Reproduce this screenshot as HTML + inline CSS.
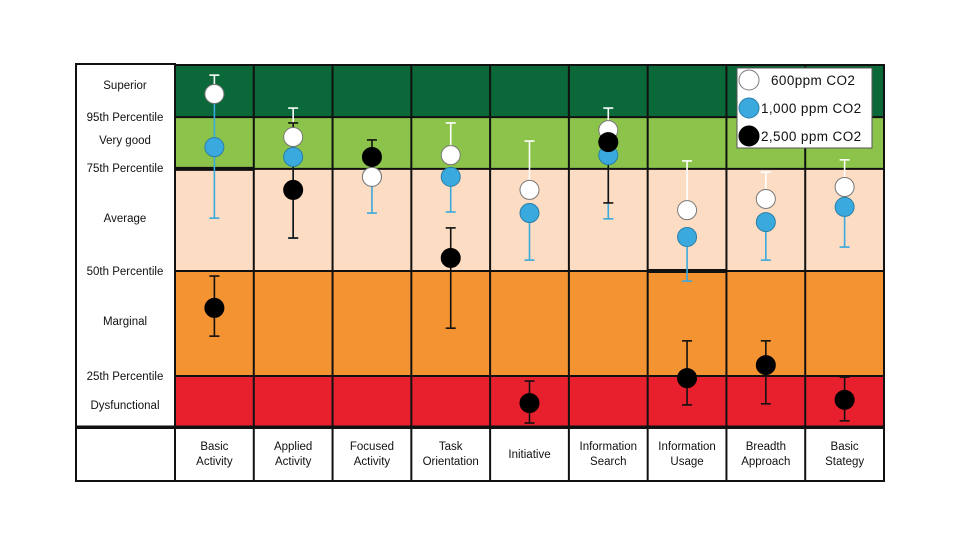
<!DOCTYPE html>
<html><head><meta charset="utf-8"><style>
html,body{margin:0;padding:0;background:#fff;}
svg{display:block;font-family:"Liberation Sans",sans-serif;}
</style></head><body>
<svg id="chart" width="960" height="540" viewBox="0 0 960 540"></svg>
<script>
const categories=[["Basic","Activity"],["Applied","Activity"],["Focused","Activity"],["Task","Orientation"],["Initiative"],["Information","Search"],["Information","Usage"],["Breadth","Approach"],["Basic","Stategy"]];
const white600=[92.0,80.1,69.1,75.1,65.5,82.0,59.9,63.0,66.3];
const white600Up=[97.2,88.1,69.1,84.0,79.0,88.1,73.5,70.4,73.8];
const blue1000=[77.3,74.6,69.1,69.1,59.1,75.1,52.5,56.6,60.8];
const blue1000Up=[92.0,74.6,69.1,69.1,59.1,75.1,52.5,56.6,60.8];
const blue1000Low=[57.7,52.2,59.1,59.4,46.1,57.5,40.3,46.1,49.7];
const black2500=[32.9,65.5,74.6,46.7,6.6,78.7,13.5,17.1,7.5];
const black2500Up=[41.7,84.0,79.3,55.0,12.7,78.7,23.8,23.8,13.8];
const black2500Low=[25.1,52.2,74.6,27.3,1.1,61.9,6.1,6.4,1.7];
const bandNames=["dysfunctional","marginal","average","very-good","superior"];
const bandEdges=[0,14.1,43.1,71.3,85.6,100];
const bandColors=["#e8202e","#f39332","#fcdcc2","#8cc34a","#0b6838"];
const sideLabels=["Superior","95th Percentile","Very good","75th Percentile","Average","50th Percentile","Marginal","25th Percentile","Dysfunctional"];
const sideLabelVals=[94.5,85.6,79.3,71.5,57.7,43.1,29.3,14.1,6.1];

const svg=document.getElementById('chart');
const NS='http://www.w3.org/2000/svg';
const X0=175,X1=884,Y0=427,Y1=65;
const colW=(X1-X0)/categories.length;
function y(v){return Y0-(v/100)*(Y0-Y1);}
function cx(i){return X0+colW*(i+0.5);}
function mk(tag,attrs,parent){const e=document.createElementNS(NS,tag);for(const k in attrs)e.setAttribute(k,attrs[k]);(parent||svg).appendChild(e);return e;}

const lc=mk('rect',{x:76,y:64,width:99,height:363,fill:'#fff',stroke:'#111','stroke-width':2});


for(let b=0;b<bandNames.length;b++){
  const r=mk('rect',{x:X0,y:y(bandEdges[b+1]),width:X1-X0,height:y(bandEdges[b])-y(bandEdges[b+1]),fill:bandColors[b]});
  
  
}
for(let b=1;b<bandNames.length;b++){
  mk('line',{x1:X0,x2:X1,y1:y(bandEdges[b]),y2:y(bandEdges[b]),stroke:'#111','stroke-width':2});
}
for(let i=1;i<categories.length;i++){
  mk('line',{x1:X0+colW*i,x2:X0+colW*i,y1:Y1,y2:481,stroke:'#111','stroke-width':2});
}
mk('line',{x1:X0,x2:X0+colW,y1:y(71.3),y2:y(71.3),stroke:'#111','stroke-width':4});
mk('line',{x1:X0+colW*6,x2:X0+colW*7,y1:y(43.1),y2:y(43.1),stroke:'#111','stroke-width':4});
mk('rect',{x:X0,y:Y1,width:X1-X0,height:Y0-Y1,fill:'none',stroke:'#111','stroke-width':2});
const br=mk('rect',{x:76,y:428,width:808,height:53,fill:'#fff',stroke:'#111','stroke-width':2});


for(let i=0;i<categories.length;i++){
  mk('line',{x1:X0+colW*i,x2:X0+colW*i,y1:428,y2:481,stroke:'#111','stroke-width':2});
}
mk('line',{x1:76,x2:884,y1:427,y2:427,stroke:'#111','stroke-width':3});
for(let k=0;k<sideLabels.length;k++){
  const t=mk('text',{x:125,y:y(sideLabelVals[k])+4,'text-anchor':'middle','font-size':11.5,fill:'#111'});
  t.textContent=sideLabels[k];
  
  
}
categories.forEach((c,i)=>{
  const t=mk('text',{x:cx(i),'text-anchor':'middle','font-size':11.5,fill:'#111'});
  
  
  c.forEach((line,j)=>{
    const ts=mk('tspan',{x:cx(i),y:(c.length===1?458:450)+j*15},t);
    ts.textContent=line;
  });
});
function errbar(i,a,b,color){
  if(a===b)return;
  const g=mk('g',{stroke:color,'stroke-width':1.6});
  
  
  mk('line',{x1:cx(i),x2:cx(i),y1:y(a),y2:y(b)},g);
  mk('line',{x1:cx(i)-5,x2:cx(i)+5,y1:y(a),y2:y(a)},g);
  mk('line',{x1:cx(i)-5,x2:cx(i)+5,y1:y(b),y2:y(b)},g);
}
function dot(i,v,fill,stroke,name){
  const c=mk('circle',{cx:cx(i),cy:y(v),r:9.5,fill:fill,stroke:stroke,'stroke-width':1});
  
  
}
for(let i=0;i<categories.length;i++){
  errbar(i,blue1000[i],blue1000Low[i],'#3aa9dd');
  if(blue1000Up[i]!==blue1000[i]){mk('line',{x1:cx(i),x2:cx(i),y1:y(blue1000Up[i]),y2:y(blue1000[i]),stroke:'#3aa9dd','stroke-width':1.6});}
  errbar(i,white600Up[i],white600[i],'#fff');
  errbar(i,black2500Up[i],black2500Low[i],'#111');
}
for(let i=0;i<categories.length;i++){
  dot(i,blue1000[i],'#3aa9dd','#2a7fa8','point-1000ppm');
  if(i===2||i===5){dot(i,white600[i],'#fff','#777','point-600ppm');dot(i,black2500[i],'#000','#000','point-2500ppm');}
  else{dot(i,black2500[i],'#000','#000','point-2500ppm');dot(i,white600[i],'#fff','#777','point-600ppm');}
}
const lg=mk('g',{});


mk('rect',{x:737,y:68,width:135,height:80,fill:'#fff',stroke:'#555','stroke-width':1},lg);
const legItems=[['600ppm CO2','#fff','#777',80,'legend-600ppm',771],['1,000 ppm CO2','#3aa9dd','#2a7fa8',108,'legend-1000ppm',761],['2,500 ppm CO2','#000','#000',136,'legend-2500ppm',761]];
legItems.forEach(it=>{
  const g=mk('g',{},lg);
  
  
  mk('circle',{cx:749,cy:it[3],r:10,fill:it[1],stroke:it[2]},g);
  const t=mk('text',{x:it[5],y:it[3]+5,'font-size':13.5,'letter-spacing':0.4,fill:'#111'},g);
  t.textContent=it[0];
});
</script>
</body></html>
